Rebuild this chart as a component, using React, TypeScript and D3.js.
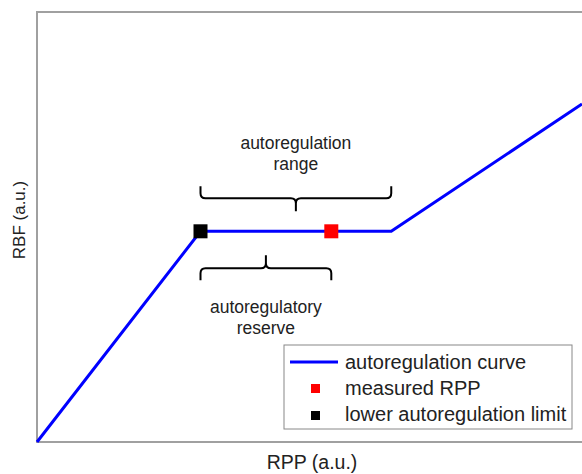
import * as d3 from 'd3';
import React from 'react';

const curveX = [0, 30, 65, 100];
const curveY = [0, 49, 49, 78.6];
const lowerLimit = { x: 30, y: 49 };
const measured = { x: 54, y: 49 };
const legendLabels = ['autoregulation curve', 'measured RPP', 'lower autoregulation limit'];

const W = 582;
const H = 474;
const font = 'Liberation Sans, Arial, sans-serif';

const App: React.FC = () => {
  const x = d3.scaleLinear().domain([0, 100]).range([37, 582]);
  const y = d3.scaleLinear().domain([0, 100]).range([442, 12]);

  const line = d3.line<number>()
    .x((_d, i) => x(curveX[i]))
    .y(d => y(d));

  // brace path: horizontal with end ticks and a centre tip
  const brace = (x0: number, x1: number, yy: number, dir: number, tipX: number) => {
    const r = 5;
    const e = 12 * dir;
    const t = 13 * dir;
    return `M${x0},${yy + e} L${x0},${yy + r * dir} Q${x0},${yy} ${x0 + r},${yy}`
      + ` L${tipX - r},${yy} Q${tipX},${yy} ${tipX},${yy - r * dir} L${tipX},${yy - t}`
      + ` M${tipX},${yy - r * dir} Q${tipX},${yy} ${tipX + r},${yy}`
      + ` L${x1 - r},${yy} Q${x1},${yy} ${x1},${yy + r * dir} L${x1},${yy + e}`;
  };

  const topX0 = x(lowerLimit.x);
  const topX1 = x(curveX[2]);
  const topMid = (topX0 + topX1) / 2;
  const botX0 = x(lowerLimit.x);
  const botX1 = x(measured.x);
  const botMid = (botX0 + botX1) / 2;
  const yFlat = y(lowerLimit.y);

  return (
    <svg width={W} height={H} style={{ position: 'absolute', left: 0, top: 0, background: '#fff' }}
      fontFamily={font}>
      <rect x={x(0)} y={y(100)} width={W} height={y(0) - y(100)} fill="none" stroke="#a0a0a0" strokeWidth={2} />
      <path d={line(curveY) ?? ''} fill="none" stroke="#0000ff" strokeWidth={3} />
      <rect x={x(measured.x) - 7} y={y(measured.y) - 7} width={14} height={14} fill="#ff0000" />
      <rect x={x(lowerLimit.x) - 7} y={y(lowerLimit.y) - 7} width={14} height={14} fill="#000" />

      <path d={brace(topX0, topX1, yFlat - 33, -1, topMid)} fill="none" stroke="#000" strokeWidth={2} />
      <path d={brace(botX0, botX1, yFlat + 37, 1, botMid)} fill="none" stroke="#000" strokeWidth={2} />

      <g fontSize={17.5} fill="#222" textAnchor="middle">
        <text x={topMid} y={yFlat - 82}>autoregulation</text>
        <text x={topMid} y={yFlat - 61}>range</text>
        <text x={botMid} y={yFlat + 82}>autoregulatory</text>
        <text x={botMid} y={yFlat + 103}>reserve</text>
      </g>

      <text x={312} y={469} fontSize={19.5} textAnchor="middle" fill="#222">RPP (a.u.)</text>
      <text transform={`translate(25,220) rotate(-90)`} fontSize={17} textAnchor="middle" fill="#222">RBF (a.u.)</text>

      <g transform="translate(284,345)">
        <rect x={0} y={0} width={288} height={84} fill="#fff" stroke="#888" strokeWidth={1} />
        <line x1={6} x2={54} y1={17} y2={17} stroke="#0000ff" strokeWidth={3} />
        <rect x={27} y={39} width={9} height={9} fill="#ff0000" />
        <rect x={27} y={66} width={9} height={9} fill="#000" />
        {legendLabels.map((l, i) => (
          <text key={l} x={61} y={23.5 + i * 26} fontSize={20} fill="#222">{l}</text>
        ))}
      </g>
    </svg>
  );
};

export default App;
